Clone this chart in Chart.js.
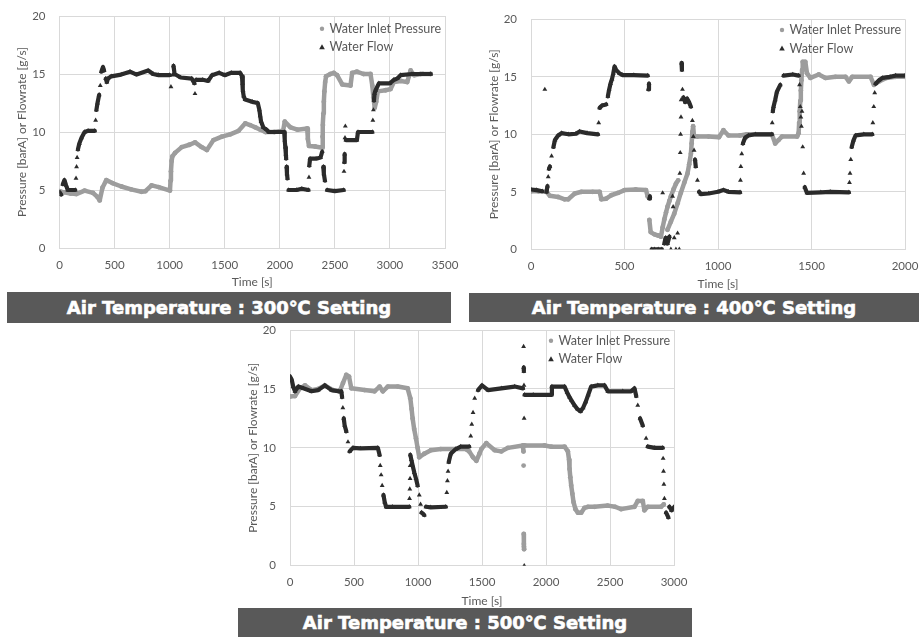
<!DOCTYPE html>
<html>
<head>
<meta charset="utf-8">
<script src="https://cdn.jsdelivr.net/npm/chart.js"></script>
<style>
  html, body { margin: 0; padding: 0; background: #fff; }
  body { width: 919px; height: 637px; position: relative; overflow: hidden; }
  canvas { position: absolute; }
  .banner {
    position: absolute; z-index: 2; background: #595959; color: #fff;
    display: flex; align-items: center; justify-content: center;
    font-family: "DejaVu Sans", sans-serif; font-weight: bold; font-size: 18px;
    -webkit-text-stroke: 0.6px #fff;
    white-space: nowrap;
  }
</style>
</head>
<body>
<canvas id="c300" width="460" height="300" style="left:0px;top:0px"></canvas>
<canvas id="c400" width="459" height="300" style="left:460px;top:0px"></canvas>
<canvas id="c500" width="460" height="296" style="left:230px;top:320px"></canvas>
<div class="banner" style="left:7px;top:292px;width:444px;height:31px">Air Temperature : 300℃ Setting</div>
<div class="banner" style="left:469px;top:293px;width:450px;height:29px">Air Temperature : 400℃ Setting</div>
<div class="banner" style="left:238px;top:608px;width:454px;height:29px">Air Temperature : 500℃ Setting</div>
<script>
// [time s, value]
const pressure300 = [[0,4.9],[40,4.8],[100,4.7],[152,4.65],[228,4.95],[304,4.75],[345,4.4],[365,4.1],[390,5.2],[425,5.85],[480,5.6],[562,5.3],[650,5.05],[745,4.85],[780,4.9],[836,5.4],[900,5.25],[1003,4.95],[1008,5.8],[1012,6.6],[1018,7.5],[1025,7.9],[1049,8.2],[1110,8.7],[1180,8.9],[1231,9.1],[1290,8.7],[1338,8.45],[1398,9.3],[1474,9.6],[1550,9.8],[1626,10.1],[1687,10.75],[1730,10.6],[1778,10.4],[1824,10.2],[1870,10.0],[1950,10.0],[2030,10.1],[2045,10.9],[2097,10.4],[2160,10.2],[2249,10.3],[2255,9.4],[2265,8.8],[2320,8.75],[2385,8.65],[2388,9.6],[2392,10.6],[2396,11.6],[2400,12.6],[2405,13.5],[2412,14.3],[2420,14.8],[2460,15.0],[2490,15.1],[2520,14.9],[2567,14.1],[2642,14.0],[2657,15.1],[2700,15.2],[2760,15.0],[2824,15.0],[2840,14.0],[2850,13.0],[2862,12.1],[2875,12.6],[2890,13.5],[2960,13.6],[3006,13.7],[3036,14.3],[3100,14.4],[3157,14.3],[3172,14.8],[3188,15.3],[3220,14.9],[3280,15.0],[3370,15.0]];
const flow300 = [[0,4.8],[15,4.6],[30,5.5],[45,5.85],[60,5.4],[75,5.0],[143,5.0],[150,6.0],[155,7.0],[160,7.8],[167,8.5],[180,9.0],[200,9.5],[228,10.0],[260,10.1],[320,10.1],[328,11.0],[335,11.9],[345,12.5],[360,13.2],[370,14.0],[380,15.2],[395,15.6],[405,15.3],[420,14.6],[430,14.3],[440,14.6],[470,14.8],[560,14.95],[640,15.2],[700,14.95],[805,15.3],[850,15.0],[900,14.9],[1000,14.9],[1012,13.9],[1025,14.9],[1035,15.7],[1045,15.0],[1100,14.7],[1200,14.6],[1225,14.2],[1230,13.3],[1240,14.5],[1300,14.5],[1350,14.4],[1385,14.9],[1450,15.1],[1500,14.9],[1560,15.1],[1640,15.1],[1657,14.8],[1662,14.2],[1666,13.6],[1672,13.1],[1685,12.8],[1750,12.6],[1800,12.5],[1815,11.9],[1822,11.4],[1830,10.9],[1850,10.4],[1880,10.2],[1900,10.0],[2040,10.0],[2045,9.3],[2050,8.7],[2055,8.1],[2058,7.7],[2062,7.0],[2065,6.4],[2070,6.0],[2080,5.0],[2150,5.0],[2200,5.1],[2260,5.0],[2265,6.1],[2268,7.1],[2275,7.7],[2330,7.7],[2370,7.8],[2385,8.3],[2395,7.0],[2400,6.4],[2410,5.8],[2430,5.0],[2500,4.9],[2580,5.0],[2583,6.6],[2586,7.4],[2589,8.1],[2592,9.5],[2595,10.5],[2600,9.3],[2700,9.3],[2710,10.0],[2840,10.0],[2845,11.0],[2850,11.9],[2855,12.7],[2860,13.3],[2870,13.6],[2900,14.2],[3000,14.2],[3036,14.5],[3066,14.6],[3097,14.9],[3200,15.0],[3300,15.0],[3370,15.0]];

const pressure400 = [[0,5.05],[40,5.05],[83,5.0],[101,4.65],[145,4.55],[180,4.35],[199,4.35],[234,4.85],[270,5.0],[330,5.0],[367,5.0],[376,4.35],[402,4.4],[429,4.7],[465,4.9],[500,5.15],[560,5.2],[615,5.15],[624,4.6],[633,2.55],[640,1.5],[660,1.3],[680,1.2],[695,1.1],[704,1.9],[713,2.6],[722,3.2],[730,3.7],[740,4.2],[748,4.6],[762,5.2],[775,5.7],[787,6.0],[730,1.7],[748,2.4],[766,3.1],[784,4.0],[801,4.9],[820,5.8],[837,6.6],[846,7.4],[855,8.3],[859,9.2],[863,10.2],[867,10.7],[872,9.8],[890,9.8],[950,9.8],[1005,9.75],[1029,10.35],[1056,9.9],[1118,9.9],[1154,10.0],[1288,10.0],[1306,9.2],[1324,9.5],[1342,9.8],[1423,9.8],[1431,10.1],[1434,11.0],[1437,12.0],[1440,12.9],[1443,13.8],[1446,14.7],[1450,15.6],[1453,16.3],[1467,16.3],[1476,15.3],[1494,14.9],[1539,15.2],[1575,14.9],[1628,15.0],[1682,15.0],[1700,14.6],[1718,15.0],[1816,15.0],[1834,14.3],[1861,14.6],[1900,14.9],[1950,15.0],[2000,15.0]];
const flow400 = [[0,5.2],[30,5.15],[60,5.05],[74,13.9],[83,5.0],[88,5.5],[92,6.3],[96,7.0],[101,7.2],[110,8.1],[120,8.9],[128,9.5],[145,9.9],[163,10.1],[200,10.0],[240,10.05],[260,10.25],[300,10.1],[358,10.0],[362,11.0],[367,12.3],[380,12.5],[402,12.6],[411,13.3],[418,13.9],[425,14.4],[433,14.8],[440,15.3],[447,15.9],[455,15.6],[473,15.3],[491,15.15],[550,15.15],[624,15.1],[628,13.9],[631,14.4],[633,4.4],[636,4.6],[645,0],[660,0],[680,0],[700,0],[704,4.9],[713,0.5],[720,1.0],[730,0.5],[740,1.1],[748,0],[757,4.6],[760,3.7],[766,1.0],[775,0],[784,1.4],[793,0],[796,6.6],[798,8.4],[800,10.0],[802,11.5],[803,13.0],[805,16.2],[807,15.6],[810,13.9],[815,13.2],[825,12.8],[835,13.1],[845,12.8],[855,12.4],[863,11.2],[868,9.8],[872,8.6],[877,7.8],[881,7.2],[890,6.0],[899,5.0],[908,4.8],[950,4.85],[1000,5.0],[1029,5.15],[1056,5.0],[1118,4.95],[1120,6.0],[1122,7.2],[1127,8.3],[1133,9.2],[1145,9.7],[1163,9.9],[1200,10.0],[1288,10.0],[1290,11.0],[1293,12.0],[1297,12.4],[1306,13.0],[1315,13.7],[1333,14.3],[1351,15.1],[1400,15.2],[1431,15.1],[1436,14.3],[1440,12.4],[1443,11.5],[1446,10.7],[1449,12.0],[1453,8.9],[1458,6.6],[1464,5.4],[1476,4.9],[1550,4.95],[1600,5.0],[1700,4.95],[1703,5.8],[1706,6.6],[1710,7.8],[1715,8.9],[1725,9.5],[1736,9.9],[1780,10.0],[1825,10.0],[1828,11.0],[1833,12.4],[1838,13.6],[1843,14.4],[1861,14.7],[1879,14.9],[1920,15.0],[1950,15.1],[2000,15.1]];

const pressure500 = [[0,14.35],[39,14.4],[78,15.05],[117,15.3],[168,14.9],[220,15.0],[272,15.3],[337,14.9],[389,14.8],[414,15.5],[440,16.2],[461,16.05],[479,15.05],[583,14.9],[660,14.8],[700,15.2],[725,14.8],[764,15.2],[842,15.2],[919,15.05],[940,14.2],[950,13.3],[958,12.5],[970,11.6],[984,10.8],[997,10.0],[1010,9.2],[1049,9.5],[1101,9.8],[1178,9.9],[1373,9.9],[1400,9.7],[1430,9.2],[1456,8.9],[1480,9.5],[1495,9.9],[1534,10.4],[1599,9.8],[1651,9.7],[1703,10.0],[1820,10.2],[1824,9.7],[1825,8.5],[1826,2.7],[1827,1.85],[1828,1.6],[1829,1.4],[1833,10.2],[1989,10.2],[2041,10.1],[2145,10.1],[2171,9.7],[2180,9.0],[2184,8.2],[2190,7.5],[2197,6.8],[2206,6.1],[2215,5.4],[2230,4.8],[2249,4.5],[2275,4.5],[2300,4.9],[2327,5.0],[2379,5.0],[2483,5.1],[2540,5.0],[2587,4.8],[2691,5.0],[2717,5.5],[2756,5.5],[2769,4.7],[2795,5.0],[2899,5.0],[2920,5.2]];
const flow500 = [[0,16.05],[13,15.8],[25,15.2],[39,14.8],[65,15.2],[104,15.05],[168,14.8],[220,14.9],[272,15.3],[324,14.9],[376,14.8],[401,14.8],[407,14.3],[413,13.4],[420,12.5],[427,11.9],[440,11.4],[453,10.5],[466,9.7],[492,10.0],[550,9.95],[686,10.0],[700,9.4],[705,8.5],[712,7.7],[720,6.8],[730,6.0],[740,5.4],[751,5.0],[800,5.0],[932,5.0],[934,5.7],[936,6.5],[938,7.4],[939,8.5],[940,9.4],[948,9.0],[958,8.5],[971,7.9],[984,7.4],[997,6.8],[1010,6.0],[1020,5.2],[1028,4.5],[1049,4.3],[1062,5.0],[1100,4.95],[1217,5.0],[1225,6.2],[1230,7.2],[1235,8.0],[1240,8.8],[1256,9.5],[1295,9.9],[1334,10.1],[1400,10.1],[1412,11.0],[1420,12.0],[1430,13.0],[1443,14.2],[1469,14.9],[1500,15.3],[1547,14.9],[1651,15.05],[1755,15.2],[1820,15.05],[1825,18.6],[1826,16.8],[1827,16.5],[1828,15.3],[1829,12.5],[1830,0],[1833,14.5],[1900,14.5],[2041,14.5],[2046,15.2],[2145,15.2],[2165,14.7],[2184,14.3],[2200,14.0],[2223,13.6],[2245,13.3],[2270,13.1],[2290,13.4],[2310,13.9],[2330,14.5],[2353,15.2],[2405,15.3],[2457,15.3],[2483,14.8],[2600,14.8],[2665,14.8],[2691,15.05],[2705,14.4],[2717,13.6],[2735,12.5],[2756,11.9],[2782,10.8],[2795,10.1],[2850,10.0],[2912,10.0],[2915,9.1],[2918,8.0],[2921,6.9],[2925,5.7],[2938,4.5],[2956,4.1],[2964,5.0],[2980,4.7],[3003,5.0]];

const seriesNames = ['Water Inlet Pressure', 'Water Flow'];
const yTitle = 'Pressure [barA] or Flowrate [g/s]';
const xTitle = 'Time [s]';

const GRAY = '#9d9d9d';
const DARK = '#2b2b2b';
const TEXT = '#595959';

const toPoints = rows => rows.map(r => ({ x: r[0], y: r[1] }));

// hide the connecting line on fast jumps so only the markers show there
function jumpGap(limit) {
  return ctx => {
    const d = ctx.chart.data.datasets[ctx.datasetIndex].data;
    const a = d[ctx.p0DataIndex], b = d[ctx.p1DataIndex];
    if (b.x < a.x || Math.abs(b.y - a.y) > limit) return 'rgba(0,0,0,0)';
    return undefined;
  };
}

// legend drawn inside the plot, top right, like the original
const insideLegend = {
  id: 'insideLegend',
  afterDatasetsDraw(chart, args, opts) {
    const { ctx, chartArea } = chart;
    const mx = chartArea.right - 123;
    const y1 = chartArea.top + opts.dy;
    const y2 = y1 + 18.5;
    ctx.save();
    ctx.fillStyle = GRAY;
    ctx.beginPath();
    ctx.arc(mx, y1, 2.2, 0, Math.PI * 2);
    ctx.fill();
    ctx.fillStyle = DARK;
    ctx.beginPath();
    ctx.moveTo(mx, y2 - 3);
    ctx.lineTo(mx + 2.8, y2 + 2);
    ctx.lineTo(mx - 2.8, y2 + 2);
    ctx.closePath();
    ctx.fill();
    ctx.fillStyle = TEXT;
    ctx.font = '12.5px Lato';
    ctx.textBaseline = 'middle';
    ctx.fillText(seriesNames[0], mx + 7.5, y1);
    ctx.fillText(seriesNames[1], mx + 7.5, y2);
    ctx.restore();
  }
};

function buildChart(id, xMax, pressure, flow, g) {
  const tickFont = { family: 'Lato', size: 11.5 };
  const titleFont = { family: 'Lato', size: 12 };
  new Chart(document.getElementById(id), {
    type: 'scatter',
    data: {
      datasets: [
        {
          label: seriesNames[0],
          data: toPoints(pressure),
          showLine: true,
          borderColor: GRAY,
          backgroundColor: GRAY,
          borderWidth: 4.5,
          borderJoinStyle: 'round',
          borderCapStyle: 'round',
          pointStyle: 'circle',
          pointRadius: 2.4,
          pointBorderWidth: 0,
          order: 2,
          segment: { borderColor: jumpGap(1.15) }
        },
        {
          label: seriesNames[1],
          data: toPoints(flow),
          showLine: true,
          borderColor: DARK,
          backgroundColor: DARK,
          borderWidth: 4.2,
          borderJoinStyle: 'round',
          borderCapStyle: 'round',
          pointStyle: 'triangle',
          pointRadius: 2.8,
          pointBorderWidth: 0,
          order: 1,
          segment: { borderColor: jumpGap(0.7) }
        }
      ]
    },
    options: {
      responsive: false,
      animation: false,
      devicePixelRatio: 1,
      layout: { padding: { left: g.padLeft, top: g.padTop, right: g.padRight, bottom: g.padBottom } },
      plugins: {
        legend: { display: false },
        tooltip: { enabled: false },
        insideLegend: { dy: g.legendDy }
      },
      scales: {
        x: {
          type: 'linear',
          min: 0,
          max: xMax,
          ticks: { stepSize: 500, color: TEXT, font: tickFont, padding: 10, callback: v => String(v) },
          grid: { color: '#d9d9d9', drawTicks: false },
          border: { color: '#d9d9d9' },
          title: { display: true, text: xTitle, color: TEXT, font: titleFont },
          afterFit: s => { s.height = g.xHeight; s.paddingLeft = 0; s.paddingRight = 0; }
        },
        y: {
          min: 0,
          max: 20,
          ticks: { stepSize: 5, color: TEXT, font: tickFont, padding: 14, callback: v => String(v) },
          grid: { color: '#d9d9d9', drawTicks: false },
          border: { color: '#d9d9d9' },
          title: { display: true, text: yTitle, color: TEXT, font: titleFont },
          afterFit: s => { s.width = g.yWidth; s.paddingTop = 0; s.paddingBottom = 0; }
        }
      }
    },
    plugins: [insideLegend]
  });
}

buildChart('c300', 3500, pressure300, flow300,
  { padLeft: 10.8, padTop: 16, padRight: 15, padBottom: 6.8, yWidth: 48.7, xHeight: 45.2, legendDy: 12.7 });
buildChart('c400', 2000, pressure400, flow400,
  { padLeft: 22.8, padTop: 19.3, padRight: 14, padBottom: 4.8, yWidth: 48.2, xHeight: 45.9, legendDy: 10.7 });
buildChart('c500', 3000, pressure500, flow500,
  { padLeft: 11.8, padTop: 10, padRight: 16, padBottom: 3.8, yWidth: 48.2, xHeight: 46.5, legendDy: 10.7 });
</script>
</body>
</html>
